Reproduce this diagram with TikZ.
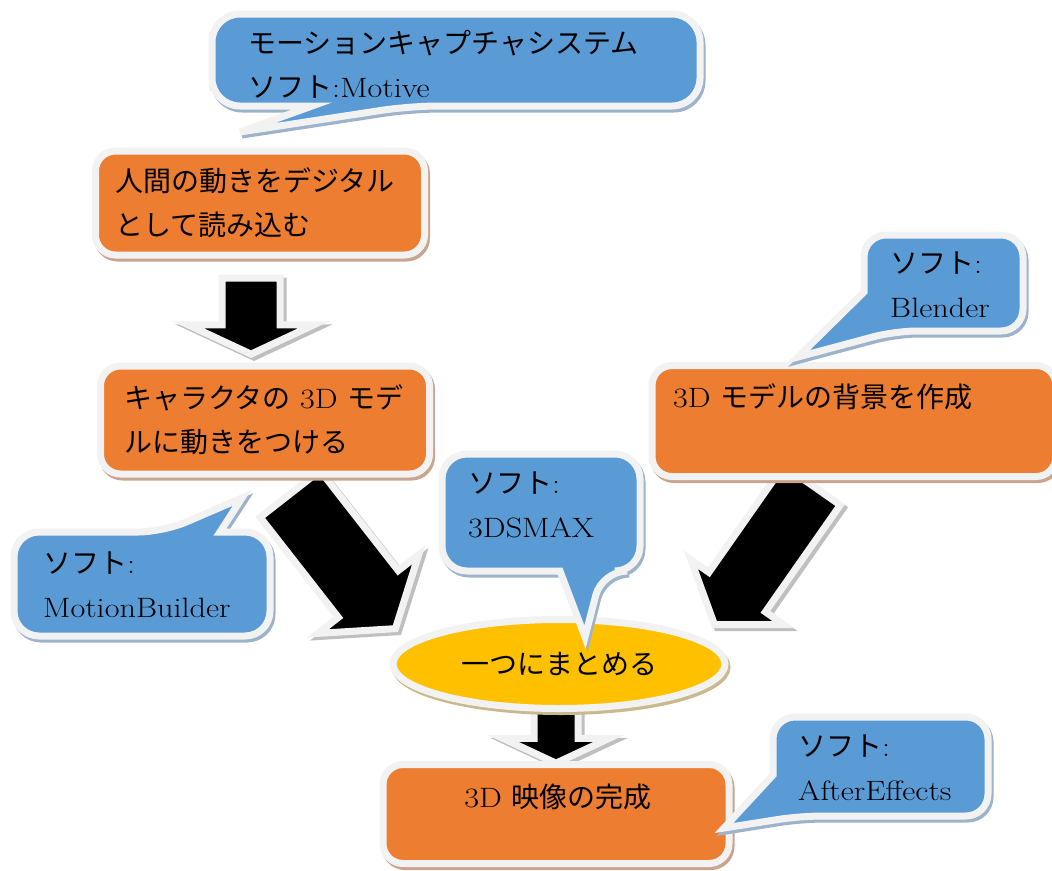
\documentclass[tikz,border=0pt]{standalone}
\usepackage{fontspec}
\setmainfont{Latin Modern Roman}[FakeStretch=1.15]
\newfontfamily\jp{Noto Sans CJK JP}
\usetikzlibrary{shapes.geometric,shapes.arrows,shadows}
\definecolor{boxorange}{HTML}{ED7D31}
\definecolor{tipblue}{HTML}{5B9BD5}
\definecolor{ovalyellow}{HTML}{FFC000}
\definecolor{glow}{HTML}{F2F2F2}
\definecolor{orangeshade}{HTML}{C9A58F}
\definecolor{blueshade}{HTML}{9DB3CC}
\definecolor{yellowshade}{HTML}{C9B98C}
\definecolor{arrowshade}{HTML}{BFBFBF}

\begin{document}
\begin{tikzpicture}[x=1pt, y=-1pt,
  every node/.style={font=\fontsize{28}{44}\selectfont},
  stepbox/.style={rectangle, rounded corners=20pt, fill=boxorange, draw=glow, line width=7pt, inner sep=0pt,
    drop shadow={shadow xshift=2pt, shadow yshift=-3pt, opacity=1, fill=orangeshade, draw=orangeshade, line width=7pt}},
  oval/.style={ellipse, fill=ovalyellow, draw=glow, line width=7pt, inner sep=0pt,
    drop shadow={shadow xshift=2pt, shadow yshift=-3pt, opacity=1, fill=yellowshade, draw=yellowshade, line width=7pt}},
  bubble/.style={fill=tipblue, draw=glow, line width=7pt,
    drop shadow={shadow xshift=2pt, shadow yshift=-3pt, opacity=1, fill=blueshade, draw=blueshade, line width=7pt}},
  blockarrow/.style={single arrow, fill=black, draw=glow, line width=7pt, inner xsep=0pt, anchor=tip,
    drop shadow={shadow xshift=3pt, shadow yshift=-3pt, opacity=1, fill=arrowshade, draw=arrowshade, line width=7pt}},
  tiptext/.style={align=left, inner sep=0pt, anchor=west}]
\useasboundingbox (0,0) rectangle (1052,870);

% block arrows
\node[blockarrow, minimum height=76pt, inner ysep=25.5pt, single arrow head extend=34pt,
  single arrow tip angle=130, rotate=-90] (a1) at (251,358) {};
\node[blockarrow, minimum height=171pt, inner ysep=34.5pt, single arrow head extend=26pt,
  single arrow tip angle=111, rotate=-52] (a2) at (398,632) {};
\node[blockarrow, minimum height=170pt, inner ysep=31pt, single arrow head extend=22pt,
  single arrow tip angle=110, rotate=-125] (a3) at (712,628) {};
\node[blockarrow, minimum height=64pt, inner ysep=18.5pt, single arrow head extend=31pt,
  single arrow tip angle=130, rotate=-90] (a4) at (556,767) {};

% steps
\node[stepbox, minimum width=329pt, minimum height=104pt, text width=290pt, align=left] (capture) at (260,203)
  {{\jp 人間の動きをデジタル}\\{\jp として読み込む}};
\node[stepbox, minimum width=329pt, minimum height=108pt, text width=282pt, align=left] (animate) at (265,420)
  {{\jp キャラクタの} 3D {\jp モデ}\\{\jp ルに動きをつける}};
\node[stepbox, minimum width=404pt, minimum height=111pt] (scene) at (854,421) {};
\node[tiptext] (scene text) at (673,397) {3D {\jp モデルの背景を作成}};
\node[oval, minimum width=332pt, minimum height=89pt] (merge) at (559,664) {{\jp 一つにまとめる}};
\node[stepbox, minimum width=346pt, minimum height=99pt] (video) at (556,814) {};
\node[inner sep=0pt] (video text) at (558,797) {3D {\jp 映像の完成}};

% software callouts
\path[bubble] (240,132) -- (312,106) -- (295,106) [rounded corners=28pt] -| (212,60) |- (700,14)
  |- (410,106) [sharp corners] -- cycle;
\node[tiptext] (motive) at (248,64) {{\jp モーションキャプチャシステム}\\{\jp ソフト}:Motive};

\path[bubble] (242,498) -- (220,532) -- (235,532) [rounded corners=25pt] -| (270,585) |- (14,636)
  |- (163,532) [sharp corners] -- cycle;
\node[tiptext] (mobu) at (43,585) {{\jp ソフト}:\\MotionBuilder};

\path[bubble] (585,637) -- (560,571) -- (545,571) [rounded corners=25pt] -| (442,510) |- (640,454)
  |- (602,571) [sharp corners] -- cycle;
\node[tiptext] (max) at (468,505) {{\jp ソフト}:\\3DSMAX};

\path[bubble] (798,357) -- (864,292) -- (864,275) [rounded corners=22pt] |- (1023,235)
  |- (895,331) [sharp corners] -- cycle;
\node[tiptext] (blender) at (890,285) {{\jp ソフト}:\\Blender};

\path[bubble] (724,828) -- (773,775) -- (773,760) [rounded corners=22pt] |- (988,717)
  |- (800,816) [sharp corners] -- cycle;
\node[tiptext] (ae) at (798,768) {{\jp ソフト}:\\AfterEffects};
\end{tikzpicture}
\end{document}
